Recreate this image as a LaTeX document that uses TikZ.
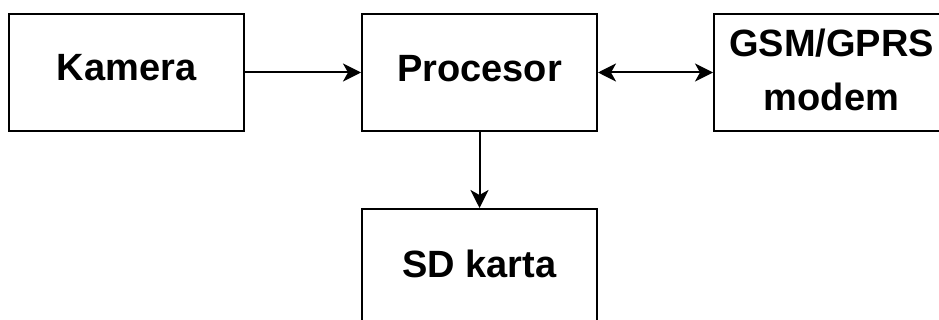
\documentclass[tikz,border=0pt]{standalone}
\usepackage{fontspec}
\setmainfont{Liberation Sans}
\usetikzlibrary{arrows.meta}
\begin{document}
\begin{tikzpicture}[x=1pt,y=-1pt,
  blk/.style={draw, line width=2pt, minimum width=235pt, minimum height=117pt, inner sep=0pt},
  txt/.style={inner sep=0pt, align=center, font=\fontsize{38}{54}\selectfont\bfseries},
  tip/.tip={Stealth[length=18pt,width=18pt,inset=5pt]},
  conn/.style={line width=2pt, -tip},
  bconn/.style={line width=2pt, tip-tip}]
\useasboundingbox (0,0) rectangle (939,320);
\clip (0,0) rectangle (939,320);
\node[blk] (kam) at (126.5,72.5) {};
\node[blk] (proc) at (479.5,72.5) {};
\node[blk] (gsm) at (831.5,72.5) {};
\node[blk] (sd) at (479.5,267.5) {};
\node[txt] (kamt) at ([yshift=5pt]kam.center) {Kamera};
\node[txt] (proct) at ([yshift=4pt]proc.center) {Procesor};
\node[txt] (gsmt) at ([yshift=3pt]gsm.center) {GSM/GPRS\\modem};
\node[txt] (sdt) at ([yshift=4pt]sd.center) {SD karta};
\draw[conn] (kam) -- (proc);
\draw[bconn] (proc) -- (gsm);
\draw[conn] (proc) -- (sd);
\end{tikzpicture}
\end{document}
